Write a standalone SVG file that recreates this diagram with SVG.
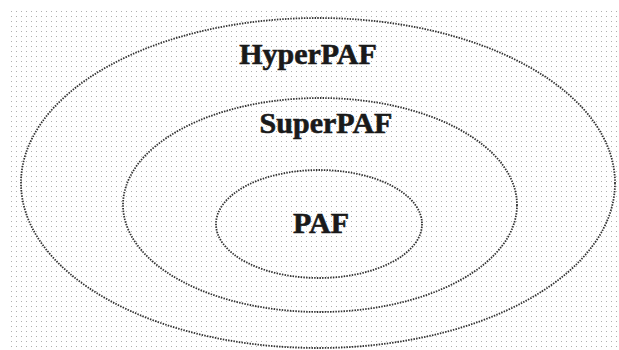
<svg xmlns="http://www.w3.org/2000/svg" width="619" height="350" viewBox="0 0 619 350">
<defs>
<pattern id="dots" x="0" y="0" width="5" height="5" patternUnits="userSpaceOnUse">
<rect x="1" y="1" width="1" height="1" fill="#b0b0b0"/>
</pattern>
</defs>
<style>
.ring{fill:none;stroke:#333;stroke-width:1.8;stroke-dasharray:1.5 1.2}
.lbl{font-family:"Liberation Serif","Times New Roman",serif;font-weight:bold;font-size:30px;fill:#1a1a1a;stroke:#1a1a1a;stroke-width:0.6;text-anchor:middle}
</style>
<rect width="619" height="350" fill="#fff"/>
<rect x="10" y="10" width="609" height="340" fill="url(#dots)"/>
<g id="hyperpaf">
<ellipse class="ring" cx="318" cy="183" rx="297" ry="165"/>
<text class="lbl" x="308" y="64">HyperPAF</text>
</g>
<g id="superpaf">
<ellipse class="ring" cx="320" cy="205" rx="197" ry="107"/>
<text class="lbl" x="326" y="133">SuperPAF</text>
</g>
<g id="paf">
<ellipse class="ring" cx="319" cy="224" rx="103" ry="54"/>
<text class="lbl" x="321" y="233">PAF</text>
</g>
<g id="connectors"></g>
</svg>
